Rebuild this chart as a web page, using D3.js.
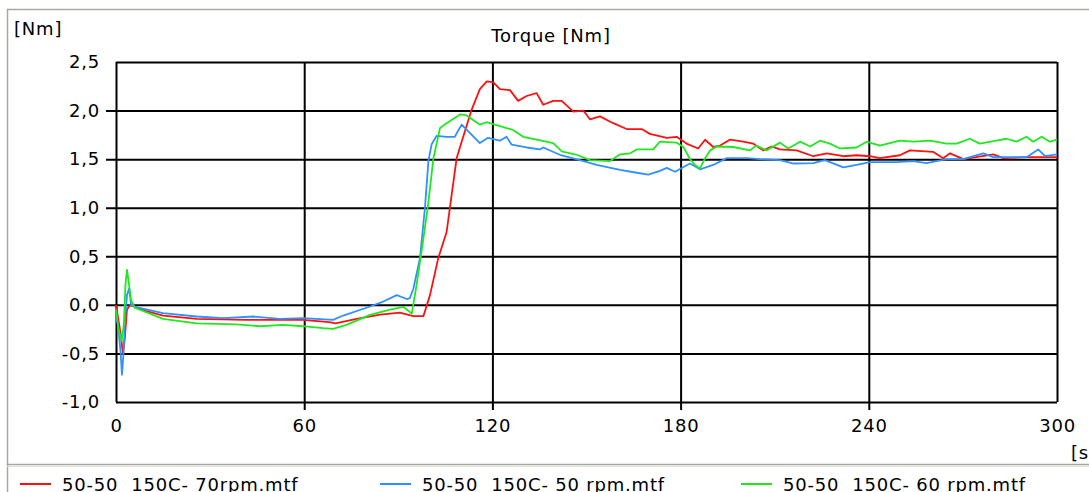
<!DOCTYPE html>
<html>
<head>
<meta charset="utf-8">
<script src="https://cdn.jsdelivr.net/npm/d3@7"></script>
<style>
  body { margin: 0; background: #fff; }
  svg { display: block; font-family: "DejaVu Sans", sans-serif; }
  text { letter-spacing: 0.8px; }
</style>
</head>
<body>
<div id="chart"></div>
<script>
// Torque curves, time [s] vs torque [Nm]
const xTicks = [0, 60, 120, 180, 240, 300];
const yTicks = [-1.0, -0.5, 0.0, 0.5, 1.0, 1.5, 2.0, 2.5];
const seriesNames = ['50-50  150C- 70rpm.mtf', '50-50  150C- 50 rpm.mtf', '50-50  150C- 60 rpm.mtf'];
const seriesColors = ['#ff1010', '#3090ff', '#20e820'];

const red70 = [
  [0, 0], [0.5, -0.1], [1.5, -0.3], [2.2, -0.5], [2.8, -0.35], [3.5, -0.05], [4.5, 0.0], [6, -0.02],
  [8, -0.05], [15, -0.11], [25.7, -0.144], [41.6, -0.154], [52, -0.154], [59.6, -0.154], [68, -0.178],
  [70, -0.19], [76.7, -0.144], [84.2, -0.1], [90.5, -0.08], [94.8, -0.117], [98, -0.117], [100.1, 0.1],
  [102.7, 0.476], [105.4, 0.75], [107, 1.13], [108.6, 1.51], [110.2, 1.68], [113.4, 2.01], [116, 2.22],
  [118.2, 2.3], [120.3, 2.29], [122.4, 2.22], [125.6, 2.21], [128.2, 2.1], [130.9, 2.15], [134.1, 2.18],
  [136.2, 2.06], [139.4, 2.1], [142.1, 2.1], [145.8, 1.99], [149, 2.0], [151.1, 1.91], [154.3, 1.94],
  [158.5, 1.87], [162.8, 1.81], [167.6, 1.81], [170.2, 1.76], [175.6, 1.72], [178.7, 1.73], [181.9, 1.66],
  [185.6, 1.61], [187.8, 1.70], [190.4, 1.625], [192.6, 1.64], [195.7, 1.70], [200, 1.68], [203.1, 1.66],
  [206.4, 1.59], [209, 1.63], [211.7, 1.6], [217, 1.59], [222.3, 1.53], [226.6, 1.56], [231.9, 1.53],
  [236.1, 1.54], [240.4, 1.53], [243.5, 1.51], [249.9, 1.54], [253.1, 1.59], [260.5, 1.575], [263.7, 1.51],
  [265.9, 1.56], [270.1, 1.5], [279.7, 1.55], [282.9, 1.51], [290.3, 1.52], [300, 1.52]
];

const blue50 = [
  [0, -0.1], [0.8, -0.25], [1.5, -0.5], [1.9, -0.72], [2.4, -0.5], [3, -0.1], [3.5, 0.1], [4.2, 0.17],
  [4.8, 0.0], [6, -0.02], [15, -0.086], [25.7, -0.12], [34.3, -0.137], [43.7, -0.12], [52.2, -0.144],
  [59.6, -0.137], [69.2, -0.154], [72.4, -0.11], [81, -0.017], [85.2, 0.034], [89.5, 0.1], [92.7, 0.06],
  [93.7, 0.07], [94.8, 0.166], [96.9, 0.48], [98.5, 1.0], [99.6, 1.48], [100.6, 1.65], [102.2, 1.74],
  [105.4, 1.73], [108, 1.73], [110.2, 1.855], [112.8, 1.77], [116, 1.665], [118.6, 1.72], [122.4, 1.69],
  [124.5, 1.73], [126.1, 1.65], [130.9, 1.62], [135.2, 1.6], [136.2, 1.62], [141.5, 1.545], [147.9, 1.49],
  [153.2, 1.44], [160.7, 1.39], [166, 1.36], [169.7, 1.34], [173.4, 1.38], [175.6, 1.41], [178.2, 1.37],
  [183, 1.455], [186.2, 1.395], [190.4, 1.44], [194.7, 1.51], [201.1, 1.51], [205.3, 1.5], [211.7, 1.49],
  [216, 1.455], [222.3, 1.46], [226, 1.49], [231.9, 1.415], [236.1, 1.44], [240.4, 1.47], [248.9, 1.47],
  [254.2, 1.48], [258.4, 1.46], [264.8, 1.5], [270.1, 1.5], [276.5, 1.56], [279.7, 1.52], [285, 1.52],
  [290.3, 1.52], [294, 1.6], [296.2, 1.53], [300, 1.55]
];

const green60 = [
  [0, -0.05], [0.8, -0.25], [1.8, -0.37], [2.5, -0.2], [3, 0.2], [3.5, 0.36], [4, 0.25], [4.8, 0.05],
  [6, -0.03], [15, -0.144], [25.7, -0.19], [38.4, -0.2], [45.9, -0.22], [53.3, -0.206], [59.6, -0.22],
  [66, -0.24], [69.2, -0.247], [73.5, -0.206], [81, -0.103], [87.4, -0.05], [91.6, -0.02], [94.3, -0.09],
  [95.8, 0.2], [97.4, 0.545], [99.5, 1.03], [101.2, 1.51], [103.3, 1.82], [105.4, 1.87], [109.7, 1.96],
  [111.8, 1.95], [116, 1.855], [118.1, 1.88], [122.4, 1.84], [126.6, 1.8], [129.8, 1.73], [134.1, 1.7],
  [139.4, 1.665], [142.1, 1.58], [146.9, 1.545], [151.1, 1.49], [157.5, 1.48], [160.7, 1.55], [163.9, 1.56],
  [166, 1.6], [171.3, 1.6], [173.4, 1.68], [178.7, 1.67], [180.9, 1.625], [183, 1.5], [184.6, 1.44],
  [186.2, 1.405], [187.8, 1.51], [189.4, 1.59], [191.5, 1.63], [196.8, 1.625], [202.1, 1.59], [204.2, 1.64],
  [207.4, 1.59], [211.7, 1.67], [214.3, 1.61], [218.1, 1.68], [221.3, 1.63], [224.4, 1.69], [227.6, 1.66],
  [230.8, 1.61], [236.1, 1.62], [239.3, 1.68], [243.5, 1.64], [249.9, 1.69], [254.2, 1.68], [259.5, 1.69],
  [264.8, 1.66], [268, 1.66], [272.2, 1.71], [275.4, 1.66], [280.7, 1.69], [283.9, 1.71], [287.1, 1.68],
  [290.3, 1.73], [292.4, 1.68], [295.1, 1.73], [297.7, 1.68], [300, 1.7]
];

const allSeries = [red70, blue50, green60];

const width = 1089;
const height = 492;
const margin = { top: 62, right: 32, bottom: 90, left: 116 };
const plotW = width - margin.left - margin.right;
const plotH = height - margin.top - margin.bottom;

const svg = d3.select('#chart')
  .append('svg')
  .attr('width', width)
  .attr('height', height);

// outer frame and legend separator
svg.append('path')
  .attr('d', `M7.5,${height}V9.5H${width}`)
  .attr('fill', 'none')
  .attr('stroke', '#a8a8a0')
  .attr('stroke-width', 1.5);
svg.append('line')
  .attr('x1', 7).attr('x2', width)
  .attr('y1', 464.5).attr('y2', 464.5)
  .attr('stroke', '#a8a8a0').attr('stroke-width', 1.5);
svg.append('line')
  .attr('x1', 7).attr('x2', width)
  .attr('y1', 466.5).attr('y2', 466.5)
  .attr('stroke', '#e0e0d8').attr('stroke-width', 1);

const x = d3.scaleLinear().domain([0, 300]).range([0, plotW]);
const y = d3.scaleLinear().domain([-1, 2.5]).range([plotH, 0]);

const g = svg.append('g')
  .attr('transform', `translate(${margin.left},${margin.top})`);

const fmt = d => d3.format('.1f')(d).replace('.', ',').replace('−', '-');

// y axis with grid
const yAxis = g.append('g')
  .call(d3.axisLeft(y).tickValues(yTicks).tickSize(10).tickPadding(6).tickFormat(fmt));
yAxis.select('.domain').remove();
yAxis.selectAll('line')
  .attr('x1', d => (d === -1 || d === 2.5) ? 0 : -10)
  .attr('x2', plotW)
  .attr('stroke', '#000')
  .attr('stroke-width', 2);
yAxis.selectAll('text')
  .attr('font-size', 18)
  .attr('font-family', '"DejaVu Sans", sans-serif')
  .attr('fill', '#000');

// x axis with grid
const xAxis = g.append('g')
  .attr('transform', `translate(0,${plotH})`)
  .call(d3.axisBottom(x).tickValues(xTicks).tickSize(8).tickPadding(9).tickFormat(d3.format('d')));
xAxis.select('.domain').remove();
xAxis.selectAll('line')
  .attr('y1', -plotH)
  .attr('y2', d => (d === 0 || d === 300) ? 0 : 8)
  .attr('stroke', '#000')
  .attr('stroke-width', 2);
xAxis.selectAll('text')
  .attr('font-size', 18)
  .attr('font-family', '"DejaVu Sans", sans-serif')
  .attr('fill', '#000');

// data lines
const line = d3.line()
  .x(d => x(d[0]))
  .y(d => y(d[1]));

g.append('g')
  .selectAll('path')
  .data(allSeries)
  .enter().append('path')
  .attr('d', line)
  .attr('fill', 'none')
  .attr('stroke', (d, i) => seriesColors[i])
  .attr('stroke-width', 1.8)
  .attr('stroke-linejoin', 'round');

// titles
svg.append('text')
  .attr('x', 551).attr('y', 42)
  .attr('text-anchor', 'middle')
  .attr('font-size', 18)
  .text('Torque [Nm]');
svg.append('text')
  .attr('x', 14).attr('y', 35)
  .attr('font-size', 18)
  .text('[Nm]');
svg.append('text')
  .attr('x', 1071).attr('y', 459)
  .attr('font-size', 18)
  .text('[s]');

// legend
const legendX = [20, 380, 741];
const legend = svg.append('g')
  .selectAll('g')
  .data(seriesNames)
  .enter().append('g')
  .attr('transform', (d, i) => `translate(${legendX[i]},484)`);
legend.append('line')
  .attr('x1', 0).attr('x2', 31)
  .attr('stroke', (d, i) => seriesColors[i])
  .attr('stroke-width', 2);
legend.append('text')
  .attr('x', 42).attr('y', 7)
  .attr('font-size', 18)
  .attr('xml:space', 'preserve')
  .style('white-space', 'pre')
  .text(d => d);
</script>
</body>
</html>
